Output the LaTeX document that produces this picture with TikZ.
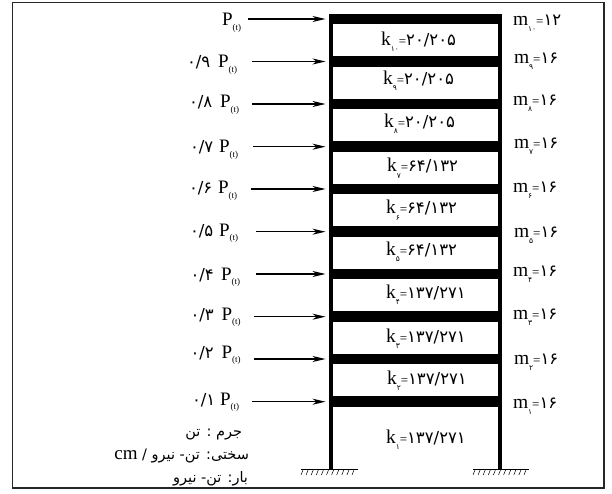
\documentclass[tikz,border=0pt]{standalone}
\usepackage{fontspec}
\setmainfont{Liberation Serif}
\newfontfamily\farsi[Script=Arabic]{DejaVu Sans}
\TeXXeTstate=1
\usetikzlibrary{arrows.meta}
\newcommand{\dig}[1]{{\fontsize{16.5}{17}\selectfont\farsi #1}}
\newcommand{\subd}[1]{\raisebox{-6pt}{\fontsize{7.5}{8}\selectfont\farsi #1}}
\newcommand{\eqs}{{\fontsize{13}{13}\selectfont=}}
\newcommand{\qty}[3]{{\fontsize{19.5}{20}\selectfont #1}\subd{#2}\eqs\dig{#3}}
\newcommand{\pt}{{\fontsize{19}{20}\selectfont P}\raisebox{-4.5pt}{\fontsize{9}{9}\selectfont (t)}}
\newcommand{\fa}[1]{{\fontsize{14.5}{18}\selectfont\farsi\beginR #1\endR}}
\tikzset{
  lab/.style={anchor=base west,inner sep=0pt,outer sep=0pt},
  legend/.style={anchor=base east,inner sep=0pt,outer sep=0pt},
  slab/.style={fill=black,minimum width=173pt,minimum height=10.5pt,inner sep=0pt,outer sep=0pt},
  column/.style={line width=3.6pt},
  load/.style={line width=1.2pt,-{Stealth[length=13pt,width=6pt,inset=4pt]},shorten >=3.5pt},
  ground/.style={line width=1.2pt},
  hatch/.style={line width=.5pt},
  frame/.style={draw=black!85,line width=1.5pt}
}
\begin{document}
\begin{tikzpicture}[x=1pt,y=-1pt]
\useasboundingbox (0,0) rectangle (612,494);
\fill[white] (0,0) rectangle (612,494);
\draw[frame] (12.5,2.5) rectangle (604,488);
% columns
\coordinate (tl) at (331,15);
\coordinate (tr) at (500,15);
\coordinate (fl) at (331,469);
\coordinate (fr) at (500,469);
\draw[column] (tl) -- (fl);
\draw[column] (tr) -- (fr);
% slabs and loads
\foreach \n/\y/\xs in {1/19/248,2/61.5/252,3/104/252,4/146.7/253,5/189/250.5,6/231.7/256,7/274/256,8/316.7/253.5,9/359/253.5,10/401.7/252}{
  \node[slab] (s\n) at (415.5,\y) {};
  \coordinate (a\n) at (\xs,\y);
  \draw[load] (a\n) -- (s\n.west);
}
% force labels
\node[lab] (p1) at (222,26) {\pt};
\foreach \n/\xc/\xp/\yb/\c in {2/187/218/68/۹,3/189/220/108/۸,4/190/219/153/۷,5/189/218/194/۶,6/190/219/236/۵,7/190.5/221/280/۴,8/190.5/221.5/320/۳,9/190.5/221.5/358/۲,10/192/220/405/۱}{
  \node[lab] (c\n) at (\xc,\yb) {\dig{۰/\c}};
  \node[lab] (p\n) at (\xp,\yb) {\pt};
}
% stiffness labels
\newcommand{\klab}[5]{\node[lab] (k#1) at (#2,#3) {\qty{k}{#4}{#5}};}
\klab{1}{381}{46}{۱۰}{۲۰/۲۰۵}
\klab{2}{383}{85}{۹}{۲۰/۲۰۵}
\klab{3}{384}{128}{۸}{۲۰/۲۰۵}
\klab{4}{387}{172}{۷}{۶۴/۱۳۲}
\klab{5}{386}{214}{۶}{۶۴/۱۳۲}
\klab{6}{386}{255}{۵}{۶۴/۱۳۲}
\klab{7}{386}{298}{۴}{۱۳۷/۲۷۱}
\klab{8}{386}{342}{۳}{۱۳۷/۲۷۱}
\klab{9}{387}{384}{۲}{۱۳۷/۲۷۱}
\klab{10}{386}{443}{۱}{۱۳۷/۲۷۱}
% mass labels
\newcommand{\mlab}[5]{\node[lab] (m#1) at (#2,#3) {\qty{m}{#4}{#5}};}
\mlab{1}{513}{26}{۱۰}{۱۲}
\mlab{2}{514}{64}{۹}{۱۶}
\mlab{3}{513}{106}{۸}{۱۶}
\mlab{4}{514}{149}{۷}{۱۶}
\mlab{5}{513}{193}{۶}{۱۶}
\mlab{6}{514}{237}{۵}{۱۶}
\mlab{7}{513}{276}{۴}{۱۶}
\mlab{8}{513}{319}{۳}{۱۶}
\mlab{9}{514}{364}{۲}{۱۶}
\mlab{10}{513}{408}{۱}{۱۶}
% supports
\foreach \f/\a/\b in {fl/301/358,fr/473/529}{
  \draw[ground] (\a,469.5) -- (\b,469.5);
  \foreach \i in {0,...,10}{
    \draw[hatch] (\a+2+5.1*\i,470) -- (\a+\i*5.1,475);
  }
}
% legend
\node[legend] (u1) at (242,436) {\fa{جرم : تن}};
\node[legend] (u2) at (249,459) {\fa{سختی: تن- نیرو / \beginL{\rmfamily\fontsize{19}{20}\selectfont cm}\endL}};
\node[legend] (u3) at (248,482) {\fa{بار: تن- نیرو}};
\end{tikzpicture}
\end{document}
